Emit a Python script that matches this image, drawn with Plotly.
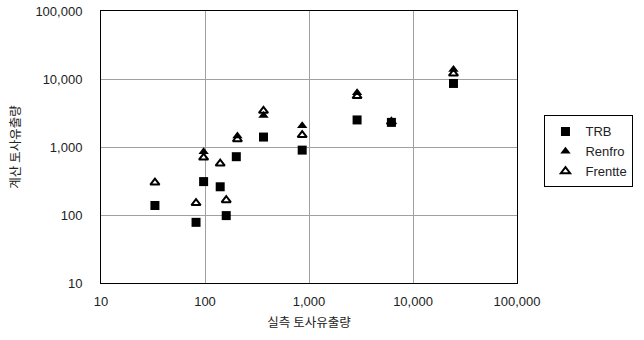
import plotly.graph_objects as go

tick_vals = [10, 100, 1000, 10000, 100000]
tick_text = ["10", "100", "1,000", "10,000", "100,000"]

trb_x = [33, 82, 97, 140, 160, 200, 365, 860, 2900, 6200, 24500]
trb_y = [138, 78, 310, 260, 98, 720, 1400, 900, 2500, 2300, 8600]

renfro_x = [97, 205, 365, 860, 2900, 6200, 24500]
renfro_y = [850, 1450, 2900, 2050, 6300, 2350, 13800]

frentte_x = [33, 82, 97, 140, 160, 205, 365, 860, 2900, 6200, 24500]
frentte_y = [300, 150, 700, 570, 165, 1300, 3400, 1500, 5600, 2350, 12000]

fig = go.Figure()
fig.add_trace(go.Scatter(x=trb_x, y=trb_y, mode="markers", name="TRB",
                         marker=dict(symbol="square", size=9, color="black")))
fig.add_trace(go.Scatter(x=renfro_x, y=renfro_y, mode="markers", name="Renfro",
                         marker=dict(symbol="triangle-up", size=9, color="black")))
fig.add_trace(go.Scatter(x=frentte_x, y=frentte_y, mode="markers", name="Frentte",
                         marker=dict(symbol="triangle-up-open", size=8, color="black",
                                     line=dict(width=2, color="black"))))

tick_font = dict(family="Liberation Sans, Arial, sans-serif", size=13, color="#222")
title_font = dict(family="Noto Sans CJK KR", size=12.5, color="#222")

axis_common = dict(
    type="log",
    tickvals=tick_vals,
    ticktext=tick_text,
    showgrid=True,
    gridcolor="#a0a0a0",
    gridwidth=1,
    showline=True,
    linecolor="black",
    linewidth=1,
    mirror=True,
    ticks="",
    zeroline=False,
    automargin=False,
    tickfont=tick_font,
)

fig.update_xaxes(range=[1, 5], ticklabelstandoff=6,
                 title=dict(text="실측 토사유출량", font=title_font, standoff=10),
                 **axis_common)
fig.update_yaxes(range=[1, 5], ticklabelstandoff=15,
                 title=dict(text="계산 토사유출량", font=title_font, standoff=12),
                 **axis_common)

fig.update_layout(
    width=644, height=340,
    margin=dict(l=101, r=122, t=11, b=57),
    paper_bgcolor="white",
    plot_bgcolor="white",
    showlegend=True,
    legend=dict(x=1.28, y=0.616, xanchor="right", yanchor="top",
                bordercolor="black", borderwidth=1,
                font=dict(family="Liberation Sans, Arial, sans-serif", size=13, color="#222"),
                tracegroupgap=0),
)

fig.write_html("out.html", config={"displayModeBar": False},
               post_script="document.body.style.margin='0';")
